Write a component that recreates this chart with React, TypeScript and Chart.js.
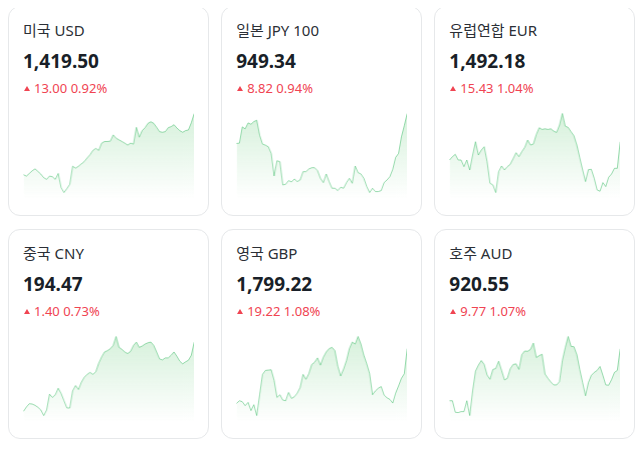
import React, { useEffect, useRef } from "react";
import { Chart, registerables } from "chart.js";

Chart.register(...registerables);

const titles = ["미국 USD", "일본 JPY 100", "유럽연합 EUR", "중국 CNY", "영국 GBP", "호주 AUD"];
const prices = ["1,419.50", "949.34", "1,492.18", "194.47", "1,799.22", "920.55"];
const changes = ["13.00", "8.82", "15.43", "1.40", "19.22", "9.77"];
const changePcts = ["0.92%", "0.94%", "1.04%", "0.73%", "1.08%", "1.07%"];

const usd = [
  1400.9, 1400.5, 1401.3, 1402.1, 1402.7, 1401.9, 1401.1, 1400.0, 1399.5, 1400.5,
  1400.3, 1399.5, 1401.3, 1397.0, 1395.5, 1396.7, 1398.0, 1403.5, 1402.9, 1403.5,
  1404.2, 1404.9, 1406.0, 1407.0, 1408.3, 1408.9, 1408.3, 1410.5, 1411.0, 1411.0,
  1411.1, 1413.0, 1412.0, 1411.5, 1411.0, 1410.5, 1409.9, 1410.5, 1410.2, 1415.3,
  1412.3, 1414.3, 1415.2, 1416.5, 1417.0, 1416.5, 1415.3, 1414.0, 1413.8, 1414.0,
  1415.2, 1415.5, 1416.1, 1415.1, 1414.3, 1413.8, 1414.3, 1414.5, 1416.7, 1419.5,
];
const jpy = [
  940.3, 940.4, 945.3, 944.7, 946.5, 946.1, 946.9, 947.3, 942.8, 940.1,
  939.8, 939.3, 937.3, 930.5, 935.1, 934.8, 927.8, 928.0, 929.1, 928.7,
  929.6, 928.8, 929.3, 931.8, 931.8, 932.6, 933.0, 933.0, 932.1, 929.8,
  928.5, 931.1, 928.8, 926.8, 926.8, 926.1, 927.1, 926.8, 928.5, 929.8,
  928.3, 933.5, 931.5, 931.1, 929.8, 927.3, 925.5, 926.8, 925.8, 925.8,
  926.1, 928.5, 929.3, 930.3, 932.5, 936.1, 937.3, 942.3, 945.7, 949.34,
];
const eur = [
  1486.7, 1487.7, 1488.4, 1486.7, 1486.7, 1484.7, 1486.7, 1483.7, 1488.2, 1492.2,
  1488.2, 1489.7, 1490.7, 1486.2, 1479.7, 1479.2, 1476.9, 1483.2, 1484.9, 1483.7,
  1484.7, 1485.4, 1487.1, 1488.9, 1487.7, 1489.2, 1490.5, 1492.7, 1491.2, 1491.5,
  1494.4, 1496.4, 1495.9, 1496.1, 1495.9, 1496.1, 1495.4, 1495.0, 1497.2, 1500.7,
  1496.9, 1496.5, 1495.2, 1494.0, 1491.2, 1487.4, 1483.7, 1480.2, 1483.8, 1483.9,
  1481.2, 1477.7, 1477.3, 1479.9, 1478.7, 1481.5, 1482.5, 1484.2, 1484.2, 1492.18,
];
const cny = [
  192.37, 192.5, 192.6, 192.59, 192.55, 192.49, 192.41, 192.24, 192.41, 192.89,
  192.79, 192.87, 193.07, 192.91, 192.69, 192.47, 192.47, 192.99, 193.15, 193.03,
  193.25, 193.4, 193.49, 193.55, 193.49, 193.57, 193.83, 194.02, 194.17, 194.21,
  194.27, 194.37, 194.64, 194.31, 194.25, 194.17, 194.12, 194.19, 194.37, 194.47,
  194.31, 194.35, 194.41, 194.45, 194.47, 194.37, 194.17, 193.96, 193.93, 193.99,
  193.99, 194.07, 194.17, 194.04, 193.89, 193.81, 193.87, 193.92, 194.07, 194.47,
];
const gbp = [
  1782.6, 1783.4, 1783.1, 1781.9, 1782.9, 1780.4, 1782.2, 1778.9, 1785.2, 1791.4,
  1792.6, 1792.7, 1792.8, 1789.6, 1784.4, 1785.2, 1783.6, 1783.4, 1785.9, 1784.1,
  1784.6, 1785.7, 1787.4, 1791.4, 1789.9, 1791.6, 1794.4, 1795.1, 1796.4, 1794.2,
  1796.6, 1798.2, 1799.2, 1799.6, 1798.6, 1793.9, 1790.9, 1793.0, 1795.6, 1799.2,
  1801.2, 1800.6, 1802.9, 1800.6, 1797.2, 1794.6, 1791.6, 1785.2, 1786.4, 1787.2,
  1787.7, 1785.1, 1784.3, 1783.8, 1782.7, 1785.7, 1787.9, 1790.2, 1791.6, 1799.22,
];
const aud = [
  904.8, 904.8, 901.3, 901.2, 901.5, 901.5, 904.8, 900.3, 907.8, 913.8,
  915.6, 917.0, 915.8, 912.6, 911.3, 914.3, 914.6, 916.8, 914.0, 911.1,
  911.6, 914.5, 915.8, 916.0, 914.3, 918.8, 919.9, 919.8, 920.4, 922.3,
  917.9, 918.5, 918.9, 912.9, 911.6, 910.5, 909.6, 909.6, 910.6, 917.0,
  920.9, 924.3, 921.3, 921.2, 918.8, 914.3, 910.3, 906.3, 910.3, 912.5,
  913.4, 914.0, 915.2, 912.5, 909.6, 909.5, 911.2, 913.4, 914.0, 920.55,
];

const seriesList = [usd, jpy, eur, cny, gbp, aud];

const FONT = '"Noto Sans", "Noto Sans CJK KR", sans-serif';

function Sparkline({ data }: { data: number[] }) {
  const ref = useRef<HTMLCanvasElement | null>(null);
  useEffect(() => {
    if (!ref.current) return;
    const lo = Math.min(...data);
    const hi = Math.max(...data);
    const r = hi - lo;
    const chart = new Chart(ref.current, {
      type: "line",
      data: {
        labels: data.map((_, i) => String(i)),
        datasets: [
          {
            data,
            borderColor: "rgba(70, 190, 110, 0.55)",
            borderWidth: 1,
            pointRadius: 0,
            pointHoverRadius: 0,
            tension: 0,
            fill: "start",
            backgroundColor: (ctx: any) => {
              const { chart: c } = ctx;
              const area = c.chartArea;
              if (!area) return "rgba(0,0,0,0)";
              const g = c.ctx.createLinearGradient(0, area.top, 0, area.bottom);
              g.addColorStop(0, "rgba(95, 200, 115, 0.26)");
              g.addColorStop(1, "rgba(95, 200, 115, 0.0)");
              return g;
            },
          },
        ],
      },
      options: {
        animation: false,
        responsive: true,
        maintainAspectRatio: false,
        layout: { padding: 0 },
        plugins: { legend: { display: false }, tooltip: { enabled: false } },
        events: [],
        scales: {
          x: { display: false },
          y: { display: false, min: lo - (r * 6) / 80, max: hi + r / 80 },
        },
      },
    });
    return () => chart.destroy();
  }, [data]);
  return (
    <div style={{ position: "absolute", left: 14, right: 14, top: 105, height: 87 }}>
      <canvas ref={ref} />
    </div>
  );
}

function Card({ idx }: { idx: number }) {
  return (
    <div
      style={{
        position: "relative",
        height: 210,
        boxSizing: "border-box",
        border: "1px solid #e6e8ea",
        borderRadius: 12,
        background: "#fff",
        fontFamily: FONT,
      }}
    >
      <div
        style={{
          position: "absolute",
          left: 14,
          top: 13,
          fontSize: 15,
          lineHeight: "20px",
          color: "#2b2f36",
          whiteSpace: "nowrap",
        }}
      >
        {titles[idx]}
      </div>
      <div
        style={{
          position: "absolute",
          left: 14,
          top: 42,
          fontSize: 19,
          lineHeight: "24px",
          fontWeight: 700,
          color: "#191f28",
          whiteSpace: "nowrap",
        }}
      >
        {prices[idx]}
      </div>
      <div
        style={{
          position: "absolute",
          left: 15,
          top: 73,
          fontSize: 13,
          lineHeight: "16px",
          color: "#f04452",
          whiteSpace: "nowrap",
        }}
      >
        <span
          style={{
            display: "inline-block",
            width: 0,
            height: 0,
            borderLeft: "3.5px solid transparent",
            borderRight: "3.5px solid transparent",
            borderBottom: "5px solid #f04452",
            marginRight: 4,
            verticalAlign: 2,
          }}
        />
        {changes[idx]} {changePcts[idx]}
      </div>
      <Sparkline data={seriesList[idx]} />
    </div>
  );
}

export default function App() {
  return (
    <div
      style={{
        marginTop: -2,
        display: "grid",
        gridTemplateColumns: "repeat(3, 1fr)",
        gridAutoRows: "210px",
        columnGap: 12.5,
        rowGap: 13,
      }}
    >
      {titles.map((_, i) => (
        <Card key={i} idx={i} />
      ))}
    </div>
  );
}
